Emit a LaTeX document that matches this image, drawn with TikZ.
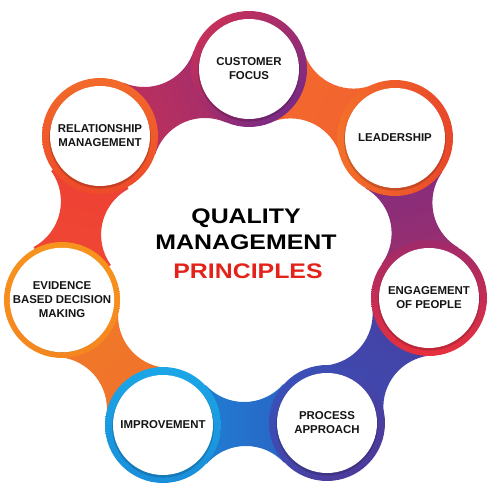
\documentclass[tikz,border=0pt]{standalone}
\usepackage{fontspec}
\setmainfont{Liberation Sans}
\newfontfamily\titlefont[FakeStretch=1.18]{Liberation Sans}
\usetikzlibrary{calc}
\definecolor{txt}{HTML}{151515}
\definecolor{titlered}{HTML}{E3231B}
\definecolor{bA1}{HTML}{CC3355}\definecolor{bB1}{HTML}{952A72}
\definecolor{bA2}{HTML}{F36A2E}\definecolor{bB2}{HTML}{F2612E}
\definecolor{bA3}{HTML}{7A2D86}\definecolor{bB3}{HTML}{A52E66}
\definecolor{bA4}{HTML}{4A3FA0}\definecolor{bB4}{HTML}{3A4CB4}
\definecolor{bA5}{HTML}{2F58C0}\definecolor{bB5}{HTML}{1A8AD8}
\definecolor{bA6}{HTML}{EE6E2A}\definecolor{bB6}{HTML}{F27D2A}
\definecolor{bA7}{HTML}{EE4A32}\definecolor{bB7}{HTML}{EE3E36}
\definecolor{rT1}{HTML}{C4305A}\definecolor{rB1}{HTML}{7B2A84}
\definecolor{rT2}{HTML}{F4702A}\definecolor{rB2}{HTML}{E8472A}
\definecolor{rT3}{HTML}{A02A6A}\definecolor{rB3}{HTML}{E8303E}
\definecolor{rT4}{HTML}{3A50B8}\definecolor{rB4}{HTML}{4E3A9A}
\definecolor{rT5}{HTML}{1BA6E6}\definecolor{rB5}{HTML}{1A8EDA}
\definecolor{rT6}{HTML}{F7941D}\definecolor{rB6}{HTML}{F5861F}
\definecolor{rT7}{HTML}{F26A2A}\definecolor{rB7}{HTML}{EE4A2A}
\newcommand\qband[5]{%
  \begin{scope}
    \coordinate (M) at ($(#1)!0.5!(#2)$);
    \coordinate (P) at ($(M)!1.48cm!90:(#2)$);
    \coordinate (Q) at ($(M)!1.48cm!-90:(#2)$);
    \clip (#1) -- (P) -- (#2) -- (Q) -- cycle;
    \shade[even odd rule, top color=#4, bottom color=#3, shading angle=#5]
      ($(M)+(-1.7cm,-1.7cm)$) rectangle ($(M)+(1.7cm,1.7cm)$)
      (P) circle (1.04cm) (Q) circle (1.04cm);
  \end{scope}}
\newcommand\qring[4]{%
  \shade[top color=#2, bottom color=#3, shading angle=#4] (#1) circle (1.16cm);
  \fill[black, opacity=0.16] ($(#1)+(0,-1.6)$) circle (1.02cm);}
\begin{document}
\begin{tikzpicture}[x=0.02cm,y=0.02cm,
  lbl/.style={circle, fill=white, minimum size=2cm, inner sep=0pt, align=center,
    font=\bfseries\fontsize{6.5}{8}\selectfont, text=txt},
  ttl/.style={font=\titlefont\bfseries\fontsize{12}{14}\selectfont, inner sep=0pt}]
\useasboundingbox (0,0) rectangle (500,500);
\coordinate (cust) at (249,431);
\coordinate (lead) at (395,362);
\coordinate (eng)  at (429,202);
\coordinate (proc) at (327,77);
\coordinate (impr) at (163,75);
\coordinate (evid) at (62,200);
\coordinate (rel)  at (100,364);
% bands
\qband{rel}{cust}{bA1}{bB1}{-66}
\qband{cust}{lead}{bA2}{bB2}{-115}
\qband{lead}{eng}{bA3}{bB3}{-168}
\qband{eng}{proc}{bA4}{bB4}{141}
\qband{proc}{impr}{bA5}{bB5}{90}
\qband{impr}{evid}{bA6}{bB6}{39}
\qband{evid}{rel}{bA7}{bB7}{-13}
% rings
\qring{cust}{rT1}{rB1}{45}
\qring{lead}{rT2}{rB2}{90}
\qring{eng}{rT3}{rB3}{0}
\qring{proc}{rT4}{rB4}{45}
\qring{impr}{rT5}{rB5}{0}
\qring{evid}{rT6}{rB6}{0}
\qring{rel}{rT7}{rB7}{0}
% labels
\node[lbl] (custL) at (cust) {CUSTOMER\\FOCUS};
\node[lbl] (leadL) at (lead) {LEADERSHIP};
\node[lbl] (engL)  at (eng)  {ENGAGEMENT\\OF PEOPLE};
\node[lbl] (procL) at (proc) {PROCESS\\APPROACH};
\node[lbl] (imprL) at (impr) {IMPROVEMENT};
\node[lbl] (evidL) at (evid) {EVIDENCE\\BASED DECISION\\MAKING};
\node[lbl] (relL)  at (rel)  {RELATIONSHIP\\MANAGEMENT};
% title
\node[ttl, text=black] (t1) at (246,282) {QUALITY};
\node[ttl, text=black] (t2) at (246,257.5) {MANAGEMENT};
\node[ttl, text=titlered] (t3) at (248,229) {PRINCIPLES};
\end{tikzpicture}
\end{document}
